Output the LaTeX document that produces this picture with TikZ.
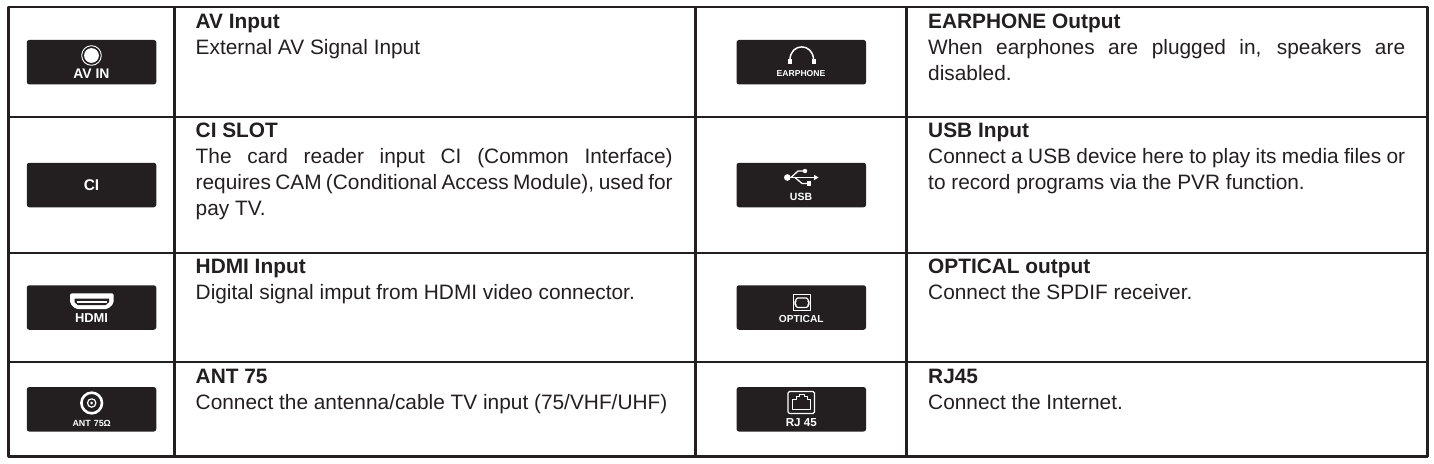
\documentclass[tikz,border=0pt]{standalone}
\usepackage{fontspec}
\setmainfont{Liberation Sans}
\definecolor{ink}{HTML}{231F20}
\tikzset{
  rule/.style={line width=2.7pt,color=ink,line cap=rect},
  portbox/.style={fill=ink,rounded corners=2.5pt,inner sep=0pt,minimum width=129.5pt,minimum height=44.5pt},
  portname/.style={text=white,inner sep=0pt,font=\fontsize{#1}{#1}\selectfont\bfseries},
  desc/.style={anchor=north west,inner sep=0pt,text width=477pt,align=justify,text=ink,font=\fontsize{20.85}{26}\selectfont},
}
\newcommand{\desctitle}[1]{\strut\textbf{#1}}
\begin{document}
\begin{tikzpicture}[x=1pt,y=-1pt,line cap=round,line join=round]
  \useasboundingbox (0,0) rectangle (1434,463);
  % table rules
  \draw[rule] (8.5,7) rectangle (1427.5,456.5);
  \foreach \y in {117,253,362}
  \draw[rule] (8.5,\y) -- (1427.5,\y);
  \foreach \x in {174.3,695.3,906.7}
  \draw[rule] (\x,7) -- (\x,456.5);
  % port plates
  \foreach \name/\x/\y in {avin/91.5/62.2,ci/91.5/185,hdmi/91.5/307.5,ant/91.5/409.3,
    earphone/801.3/62.2,usb/801.3/185,optical/801.3/307.5,rj/801.3/409.3}
  \node[portbox] (\name) at (\x,\y) {};
  % port icons
  \draw[white,line width=0.9pt] (91.5,55.5) circle (9.8);
  \fill[white] (91.5,55.5) circle (7.4);
  \node[portname=13.9] (avinname) at (91.5,73.7) {AV IN};
  \node[portname=15.5] (ciname) at (91.5,185.3) {CI};
  \fill[white,rounded corners=2pt] (70,293.3) -- (113.7,293.3) -- (113.7,303.5) -- (107.5,309.2) -- (76,309.2) -- (70,303.5) -- cycle;
  \fill[ink] (74.5,298.6) -- (109,298.6) -- (109,302.2) -- (105.5,305.2) -- (78,305.2) -- (74.5,302.2) -- cycle;
  \fill[white] (77,301) rectangle (106.5,303);
  \node[portname=12.9] (hdminame) at (91.5,318) {HDMI};
  \draw[white,line width=2.6pt] (91.7,403) circle (10.3);
  \draw[white,line width=1.2pt] (91.7,403) circle (4.2);
  \fill[white] (91.7,403) circle (1.5);
  \node[portname=8.9] (antname) at (91.7,423) {ANT\hspace{3pt}75Ω};
  \draw[white,line width=1.5pt] (790,60) .. controls (790,42.5) and (813.5,42.5) .. (813.5,60);
  \fill[white] (788,59) rectangle (791.5,64);
  \fill[white] (812,59) rectangle (816,64);
  \node[portname=8.6] (earphonename) at (801,73.7) {EARPHONE};
  \fill[white] (787.3,177.5) circle (3.3);
  \draw[white,line width=1.4pt] (787.3,177.5) -- (815,177.5);
  \draw[white,line width=1.3pt] (791,177.5) -- (798,171) -- (804,171);
  \draw[white,line width=1.3pt] (795,177.5) -- (802,183.5) -- (807,183.5);
  \fill[white] (805,171) circle (2.2);
  \fill[white] (806.8,181.2) rectangle (811.3,185.8);
  \fill[white] (818.5,177.5) -- (814,174.8) -- (814,180.2) -- cycle;
  \node[portname=10.5] (usbname) at (801,197) {USB};
  \draw[white,line width=1pt] (793.5,294) rectangle (810.5,310.5);
  \draw[white,line width=1.1pt,rounded corners=1.5pt] (796,298) -- (808,298) -- (808,301) -- (809,302) -- (809,304) -- (808,305) -- (808,307.5) -- (796,307.5) -- (796,305) -- (795,304) -- (795,302) -- (796,301) -- cycle;
  \node[portname=10.2] (opticalname) at (801.3,319) {OPTICAL};
  \draw[white,line width=1.2pt,rounded corners=1.5pt] (788,391.5) rectangle (814.5,413.5);
  \draw[white,line width=1pt] (792,409) -- (792,399.5) -- (796,399.5) -- (796,396.5) -- (799,396.5) -- (799,394.5) -- (804,394.5) -- (804,396.5) -- (807,396.5) -- (807,399.5) -- (810.5,399.5) -- (810.5,409) -- cycle;
  \node[portname=11.6] (rjname) at (801.3,423) {RJ 45};
  % left column
  \node[desc] (avintext) at (195.5,9.8) {\desctitle{AV Input}\\External AV Signal Input};
  \node[desc] (citext) at (195.5,118.8) {\desctitle{CI SLOT}\\The card reader input CI (Common Interface)\linebreak requires CAM (Conditional Access Module), used for\linebreak pay TV.};
  \node[desc] (hdmitext) at (195.5,255.1) {\desctitle{HDMI Input}\\Digital signal imput from HDMI video connector.};
  \node[desc] (anttext) at (195.5,365.1) {\desctitle{ANT 75}\\Connect the antenna/cable TV input (75/VHF/UHF)};
  % right column
  \node[desc] (earphonetext) at (928,9.8) {\desctitle{EARPHONE Output}\\When earphones are plugged in, speakers are\linebreak disabled.};
  \node[desc] (usbtext) at (928,118.8) {\desctitle{USB Input}\\Connect a USB device here to play its media files or\linebreak to record programs via the PVR function.};
  \node[desc] (opticaltext) at (928,255.1) {\desctitle{OPTICAL output}\\Connect the SPDIF receiver.};
  \node[desc] (rjtext) at (928,365.1) {\desctitle{RJ45}\\Connect the Internet.};
\end{tikzpicture}
\end{document}
